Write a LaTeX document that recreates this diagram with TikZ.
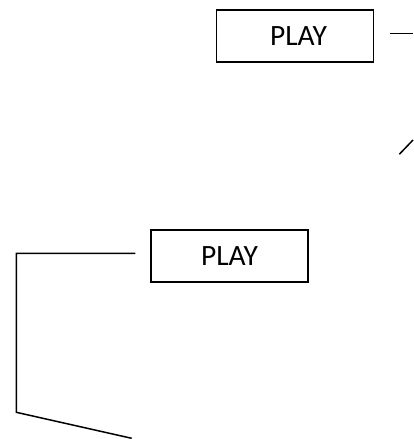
\documentclass[tikz,border=0pt]{standalone}
\usepackage{fontspec}
\setmainfont{Carlito}
\begin{document}
\begin{tikzpicture}[x=1pt,y=-1pt,
  playbox/.style={draw,line width=1.6pt,minimum width=157pt,minimum height=52pt,inner sep=0pt,font=\fontsize{29.5}{33}\selectfont},
  conn/.style={line width=1.5pt}]
\useasboundingbox (0,0) rectangle (413,439);
\node[playbox] (p1) at (295,36) {\raisebox{-2.5pt}{\hspace{7pt}PLAY}};
\node[playbox] (p2) at (229.5,256) {\raisebox{-2.5pt}{PLAY}};
\coordinate (a1) at (389.7,33.3);
\coordinate (a2) at (413,33.3);
\coordinate (b1) at (399.3,154.3);
\coordinate (b2) at (413,140);
\coordinate (c1) at (135.3,253.3);
\coordinate (c2) at (16.3,253.3);
\coordinate (c3) at (16.3,412.3);
\coordinate (c4) at (131.7,438.3);
\draw[conn] (a1) -- (a2);
\draw[conn] (b1) -- (b2);
\draw[conn] (c1) -- (c2) -- (c3) -- (c4);
\end{tikzpicture}
\end{document}
